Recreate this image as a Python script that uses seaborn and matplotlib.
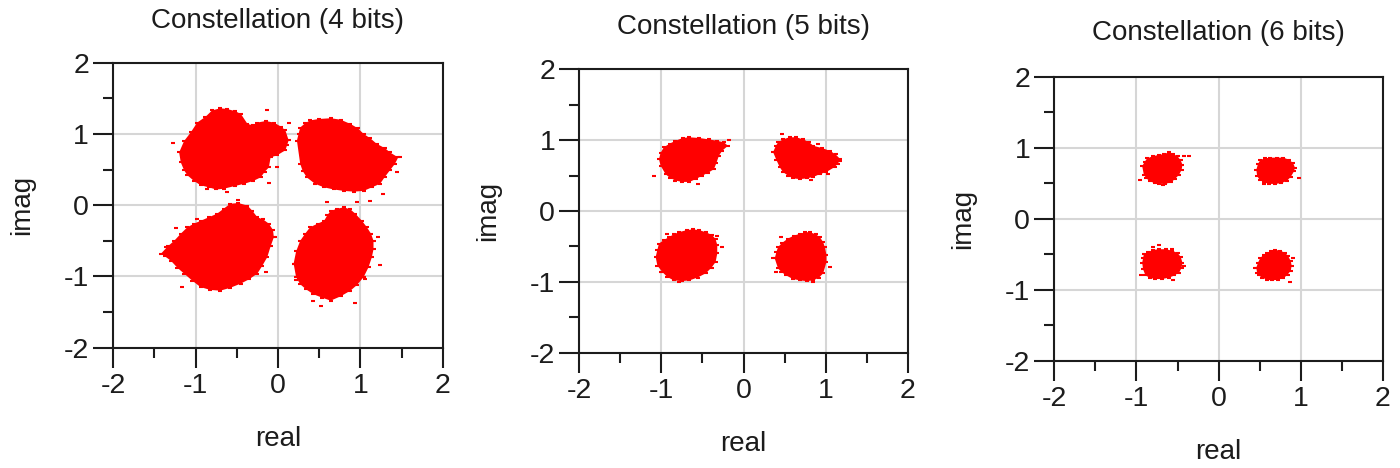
import matplotlib
matplotlib.use("Agg")
import matplotlib.pyplot as plt
import seaborn as sns
import pandas as pd

# ---------------- text ----------------
titles = ["Constellation (4 bits)", "Constellation (5 bits)", "Constellation (6 bits)"]
x_label = "real"
y_label = "imag"
major_ticks = [-2, -1, 0, 1, 2]
tick_labels = ["-2", "-1", "0", "1", "2"]
minor_ticks = [-1.5, -0.5, 0.5, 1.5]

# ---------------- 4 bits: cluster outlines ----------------
b4_ul_x = [-1.20, -1.14, -1.06, -0.98, -0.88, -0.80, -0.70, -0.62, -0.52, -0.45, -0.37, -0.30, -0.25, -0.15,
           -0.05, 0.04, 0.09, 0.13, 0.11, 0.09, -0.01, -0.09, -0.11, -0.16, -0.21, -0.30, -0.41, -0.52,
           -0.66, -0.75, -0.84, -0.94, -1.02, -1.10, -1.14, -1.18]
b4_ul_y = [0.74, 0.90, 1.02, 1.16, 1.24, 1.33, 1.36, 1.35, 1.32, 1.28, 1.14, 1.12, 1.16, 1.18,
           1.16, 1.10, 1.05, 0.91, 0.84, 0.77, 0.70, 0.67, 0.53, 0.47, 0.39, 0.34, 0.30, 0.27,
           0.23, 0.22, 0.25, 0.28, 0.34, 0.42, 0.49, 0.60]
b4_ur_x = [0.23, 0.25, 0.27, 0.33, 0.39, 0.50, 0.64, 0.76, 0.88, 0.97, 1.04, 1.12, 1.20, 1.30, 1.36, 1.46,
           1.42, 1.36, 1.30, 1.24, 1.14, 1.04, 0.92, 0.80, 0.68, 0.56, 0.45, 0.35, 0.30, 0.27]
b4_ur_y = [0.906, 1.00, 1.09, 1.15, 1.19, 1.21, 1.22, 1.20, 1.14, 1.08, 1.00, 0.94, 0.86, 0.80, 0.74, 0.67,
           0.58, 0.49, 0.40, 0.30, 0.25, 0.20, 0.19, 0.20, 0.22, 0.25, 0.30, 0.39, 0.48, 0.58]
b4_ll_x = [-1.42, -1.34, -1.26, -1.18, -1.10, -1.02, -0.94, -0.84, -0.74, -0.66, -0.58, -0.48, -0.37, -0.31,
           -0.25, -0.18, -0.11, -0.06, -0.05, -0.09, -0.13, -0.19, -0.25, -0.35, -0.45, -0.58, -0.70,
           -0.82, -0.94, -1.04, -1.14, -1.22, -1.30, -1.37]
b4_ll_y = [-0.68, -0.58, -0.50, -0.40, -0.31, -0.26, -0.22, -0.17, -0.12, -0.05, 0.02, 0.03, -0.006, -0.08,
           -0.17, -0.20, -0.26, -0.35, -0.45, -0.58, -0.73, -0.85, -0.96, -1.04, -1.10, -1.16, -1.20,
           -1.19, -1.15, -1.06, -0.96, -0.88, -0.78, -0.72]
b4_lr_x = [0.19, 0.22, 0.27, 0.33, 0.39, 0.48, 0.56, 0.60, 0.64, 0.72, 0.80, 0.88, 0.94, 1.02, 1.08, 1.13,
           1.16, 1.16, 1.14, 1.10, 1.04, 0.96, 0.88, 0.76, 0.64, 0.54, 0.43, 0.34, 0.27, 0.22]
b4_lr_y = [-0.82, -0.65, -0.50, -0.40, -0.31, -0.26, -0.22, -0.14, -0.08, -0.05, -0.03, -0.06, -0.12, -0.22, -0.31, -0.40,
           -0.50, -0.62, -0.73, -0.87, -1.01, -1.12, -1.20, -1.28, -1.34, -1.30, -1.25, -1.18, -1.11, -1.01]
b4_stray_x = [-1.28, -0.13, 0.13, -0.01, -0.11, -0.62, -0.86, 1.12, 1.28, 1.48, 1.44, 0.60, 0.96, -0.48,
              -0.98, -1.24, -1.36, -1.16, -0.15, -0.03, 1.22, 1.24, 1.06, 0.52, 0.43, 0.93, 0.22, 0.19, 0.88]
b4_stray_y = [0.87, 1.33, 1.15, 0.53, 0.31, 0.18, 0.22, 0.06, 0.16, 0.68, 0.46, 0.04, 0.04, 0.07,
              -0.20, -0.32, -0.59, -1.15, -0.94, -0.45, -0.44, -0.84, -1.04, -1.42, -1.35, -1.37, -1.05, -0.82, -0.09]

# ---------------- 5 bits ----------------
b5_ul_x = [-1.03, -1.01, -0.97, -0.90, -0.83, -0.74, -0.66, -0.54, -0.42, -0.32, -0.24, -0.19, -0.26, -0.30,
           -0.33, -0.36, -0.43, -0.50, -0.58, -0.66, -0.75, -0.83, -0.90, -0.95, -1.01]
b5_ul_y = [0.73, 0.82, 0.90, 0.95, 0.99, 1.03, 1.04, 1.03, 1.01, 0.99, 0.97, 0.92, 0.85, 0.78,
           0.68, 0.59, 0.54, 0.50, 0.45, 0.41, 0.41, 0.43, 0.47, 0.52, 0.64]
b5_ur_x = [0.36, 0.39, 0.42, 0.48, 0.56, 0.64, 0.73, 0.80, 0.85, 0.95, 1.05, 1.12, 1.18, 1.15, 1.11,
           1.01, 0.93, 0.85, 0.77, 0.69, 0.60, 0.54, 0.48, 0.44, 0.40]
b5_ur_y = [0.83, 0.91, 0.97, 1.01, 1.04, 1.04, 1.01, 0.97, 0.92, 0.89, 0.85, 0.80, 0.73, 0.67, 0.62,
           0.55, 0.52, 0.48, 0.46, 0.45, 0.46, 0.50, 0.55, 0.62, 0.72]
b5_ll_x = [-1.07, -1.05, -1.03, -0.97, -0.91, -0.85, -0.79, -0.69, -0.62, -0.54, -0.46, -0.38, -0.34, -0.32,
           -0.32, -0.34, -0.39, -0.46, -0.56, -0.66, -0.75, -0.85, -0.93, -0.99, -1.05]
b5_ll_y = [-0.65, -0.55, -0.46, -0.41, -0.37, -0.33, -0.30, -0.27, -0.26, -0.27, -0.30, -0.34, -0.40, -0.48,
           -0.60, -0.72, -0.80, -0.88, -0.94, -0.98, -0.99, -0.98, -0.93, -0.86, -0.77]
b5_lr_x = [0.38, 0.40, 0.42, 0.47, 0.54, 0.61, 0.69, 0.75, 0.81, 0.88, 0.93, 0.97, 0.99, 1.01, 1.01,
           0.97, 0.92, 0.85, 0.77, 0.69, 0.60, 0.52, 0.46, 0.42]
b5_lr_y = [-0.67, -0.58, -0.51, -0.45, -0.39, -0.35, -0.32, -0.30, -0.30, -0.33, -0.37, -0.44, -0.51, -0.62, -0.72,
           -0.88, -0.94, -0.98, -0.99, -0.98, -0.96, -0.91, -0.86, -0.81]
b5_stray_x = [-1.09, -0.55, -0.18, 0.47, 0.91, 1.18, 1.03, 0.82, -0.93, -0.26, -0.32, -1.01, -0.79,
              0.36, 0.40, 1.05, 0.85, 0.46]
b5_stray_y = [0.49, 0.38, 1.00, 1.08, 0.94, 0.71, 0.52, 0.44, -0.33, -0.51, -0.35, -0.86, -1.00,
              -0.67, -0.86, -0.79, -1.00, -0.37]

# ---------------- 6 bits ----------------
b6_ul_x = [-0.93, -0.90, -0.87, -0.80, -0.72, -0.66, -0.60, -0.55, -0.50, -0.46, -0.44, -0.45, -0.48,
           -0.53, -0.58, -0.65, -0.72, -0.78, -0.84, -0.88, -0.91]
b6_ul_y = [0.74, 0.80, 0.85, 0.88, 0.90, 0.91, 0.94, 0.91, 0.88, 0.82, 0.76, 0.69, 0.62,
           0.56, 0.51, 0.49, 0.49, 0.50, 0.53, 0.57, 0.62]
b6_ur_x = [0.46, 0.48, 0.51, 0.57, 0.63, 0.71, 0.79, 0.86, 0.91, 0.93, 0.92, 0.88, 0.83, 0.76, 0.69,
           0.62, 0.55, 0.50, 0.47]
b6_ur_y = [0.69, 0.77, 0.83, 0.85, 0.86, 0.86, 0.86, 0.83, 0.78, 0.72, 0.67, 0.59, 0.53, 0.50, 0.49,
           0.49, 0.51, 0.55, 0.60]
b6_ll_x = [-0.93, -0.92, -0.91, -0.86, -0.80, -0.72, -0.64, -0.57, -0.50, -0.46, -0.44, -0.45, -0.48,
           -0.54, -0.60, -0.69, -0.78, -0.84, -0.89, -0.92]
b6_ll_y = [-0.62, -0.56, -0.50, -0.47, -0.44, -0.43, -0.43, -0.45, -0.48, -0.54, -0.62, -0.69, -0.76,
           -0.80, -0.83, -0.85, -0.85, -0.83, -0.80, -0.71]
b6_lr_x = [0.46, 0.48, 0.51, 0.55, 0.59, 0.64, 0.69, 0.75, 0.81, 0.85, 0.88, 0.89, 0.88, 0.84, 0.79,
           0.72, 0.65, 0.59, 0.53, 0.49, 0.47]
b6_lr_y = [-0.69, -0.62, -0.55, -0.51, -0.48, -0.46, -0.44, -0.45, -0.48, -0.53, -0.60, -0.66, -0.73, -0.79, -0.84,
           -0.86, -0.87, -0.86, -0.83, -0.80, -0.77]
b6_stray_x = [-0.96, -0.415, -0.36, -0.68, 0.98, 0.55, -0.80, -0.73, -0.57, -0.42, -0.56, -0.95,
              0.87, 0.91, 0.44, 0.55]
b6_stray_y = [0.545, 0.885, 0.885, 0.47, 0.57, 0.49, -0.40, -0.375, -0.42, -0.66, -0.87, -0.79,
              -0.89, -0.55, -0.70, -0.53]

panels = [
    dict(title=titles[0],
         clusters=[(b4_ul_x, b4_ul_y), (b4_ur_x, b4_ur_y), (b4_ll_x, b4_ll_y), (b4_lr_x, b4_lr_y)],
         stray=(b4_stray_x, b4_stray_y)),
    dict(title=titles[1],
         clusters=[(b5_ul_x, b5_ul_y), (b5_ur_x, b5_ur_y), (b5_ll_x, b5_ll_y), (b5_lr_x, b5_lr_y)],
         stray=(b5_stray_x, b5_stray_y)),
    dict(title=titles[2],
         clusters=[(b6_ul_x, b6_ul_y), (b6_ur_x, b6_ur_y), (b6_ll_x, b6_ll_y), (b6_lr_x, b6_lr_y)],
         stray=(b6_stray_x, b6_stray_y)),
]

# ---------------- style ----------------
sns.set_style("white")
plt.rcParams["font.family"] = ["Liberation Sans", "DejaVu Sans"]
plt.rcParams["axes.unicode_minus"] = False

RED = "#ff0000"
INK = "#1c1c1c"

fig = plt.figure(figsize=(14, 4.68), dpi=100)
# axes rectangles in figure fraction (left, bottom, width, height)
rects = [
    (0.0809, 0.2571, 0.2353, 0.6090),
    (0.4138, 0.2464, 0.2346, 0.6056),
    (0.7531, 0.2293, 0.2346, 0.6068),
]
title_y = [1.146, 1.149, 1.154]
xlabel_y = [-0.322, -0.322, -0.322]
ylabel_x = [-0.277, -0.277, -0.277]

for i, (p, r) in enumerate(zip(panels, rects)):
    ax = fig.add_axes(r)
    ax.set_xlim(-2, 2)
    ax.set_ylim(-2, 2)
    ax.set_axisbelow(True)
    ax.grid(True, which="major", color="#d6d6d6", linewidth=1.5)

    for cx, cy in p["clusters"]:
        ax.fill(cx, cy, color=RED, linewidth=0, zorder=3)

    edge_x = [v for cx, _ in p["clusters"] for v in cx] + list(p["stray"][0])
    edge_y = [v for _, cy in p["clusters"] for v in cy] + list(p["stray"][1])
    df = pd.DataFrame({"real": edge_x, "imag": edge_y})
    sns.scatterplot(data=df, x="real", y="imag", ax=ax, marker="_", s=12,
                    color=RED, linewidth=1.5, legend=False, zorder=4)

    ax.set_xticks(major_ticks)
    ax.set_xticklabels(tick_labels)
    ax.set_yticks(major_ticks)
    ax.set_yticklabels(tick_labels)
    ax.set_xticks(minor_ticks, minor=True)
    ax.set_yticks(minor_ticks, minor=True)
    ax.tick_params(which="both", direction="out", bottom=True, left=True, top=False, right=False,
                   color=INK, width=1.5, labelsize=20.5, labelcolor=INK)
    ax.tick_params(which="major", length=14.4)
    ax.tick_params(which="minor", length=7.2)
    ax.tick_params(axis="y", pad=3)
    ax.tick_params(axis="x", pad=4)

    for s in ax.spines.values():
        s.set_color(INK)
        s.set_linewidth(1.5)
        s.set_visible(True)

    ax.set_title(p["title"], fontsize=20, color=INK, y=title_y[i], va="center", pad=0)
    ax.set_xlabel(x_label, fontsize=20, color=INK)
    ax.set_ylabel(y_label, fontsize=20, color=INK)
    ax.xaxis.label.set_va("center")
    ax.yaxis.label.set_va("center")
    ax.xaxis.set_label_coords(0.5, xlabel_y[i])
    ax.yaxis.set_label_coords(ylabel_x[i], 0.5)

fig.savefig("out.png", dpi=100)
